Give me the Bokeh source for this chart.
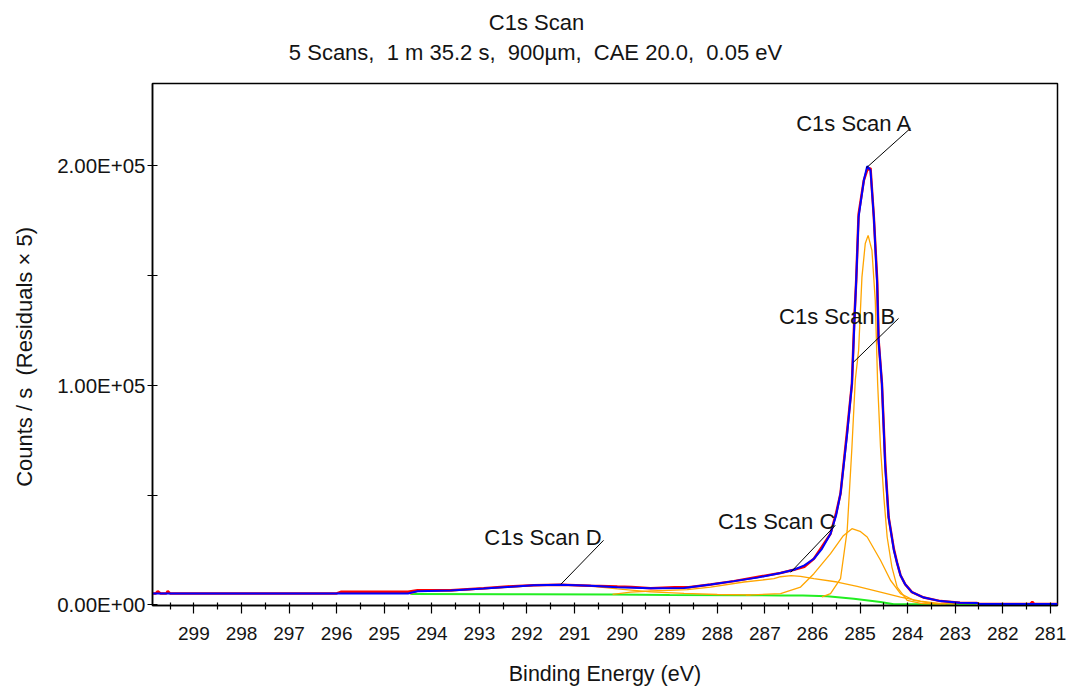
import math
from bokeh.plotting import figure
from bokeh.layouts import column, row
from bokeh.models import Range1d, FixedTicker, ColumnDataSource
from bokeh.core.properties import value
from bokeh.embed import file_html
from bokeh.resources import INLINE

# ---------------- data (binding energy in eV, counts / s) ----------------
title_text = "C1s Scan"
subtitle_text = "5 Scans,\u00a0 1 m 35.2 s,\u00a0 900\u00b5m,\u00a0 CAE 20.0,\u00a0 0.05 eV"
x_label_text = "Binding Energy (eV)"
y_label_text = "Counts / s \u00a0(Residuals \u00d7 5)"

# fitted envelope (blue)
env_be = [299.87, 294.50, 294.30, 293.60, 292.91, 292.41, 291.86, 291.29, 290.66, 290.10,
          289.40, 288.70, 288.14, 287.65, 287.16, 286.67, 286.39, 286.17, 285.97, 285.80,
          285.62, 285.50, 285.41, 285.27, 285.17, 285.12, 285.08, 285.03, 284.92, 284.85,
          284.78, 284.71, 284.64, 284.61, 284.54, 284.47, 284.40, 284.29, 284.22, 284.15,
          284.05, 283.91, 283.66, 283.31, 282.90, 282.54, 282.50, 280.85]
env_cps = [5200, 5200, 6200, 6500, 7400, 8100, 8900, 9200, 8700, 8000,
           7600, 7700, 9300, 10800, 12400, 14500, 16000, 18000, 21000, 25500,
           32400, 41000, 50700, 78000, 100800, 128000, 148000, 176700, 193400, 199800,
           198000, 176700, 146300, 120500, 100800, 62800, 40000, 25000, 19000, 13500,
           9300, 5800, 3300, 1700, 1000, 800, 400, 400]

# measured data (red)
raw_be = [299.87, 299.80, 299.76, 299.70, 299.58, 299.55, 299.50, 296.00, 295.90, 294.50,
          294.30, 293.60, 292.91, 292.41, 291.86, 291.29, 290.66, 290.10, 289.80, 289.40,
          288.90, 288.60, 288.14, 287.65, 287.16, 286.67, 286.39, 286.17, 285.97, 285.80,
          285.62, 285.50, 285.41, 285.27, 285.17, 285.12, 285.08, 285.03, 284.92, 284.85,
          284.78, 284.71, 284.64, 284.61, 284.54, 284.47, 284.40, 284.29, 284.22, 284.15,
          284.05, 283.91, 283.66, 283.31, 282.90, 282.54, 282.50, 281.42, 281.38, 281.34,
          280.85]
raw_cps = [5200, 5200, 6200, 5200, 5200, 6200, 5200, 5200, 6000, 6000,
           6600, 6700, 7600, 8400, 8900, 9200, 8700, 8300, 8100, 7600,
           8000, 8000, 9300, 10800, 12700, 14500, 16000, 17300, 21000, 26500,
           32400, 42000, 50700, 79500, 100800, 130000, 148000, 178000, 193400, 198000,
           199000, 176700, 148000, 120500, 100800, 64500, 40000, 25500, 19000, 13500,
           9300, 5800, 3300, 1700, 1000, 800, 400, 400, 1300, 400,
           400]

# fit components (orange)
a_be = [285.80, 285.62, 285.41, 285.27, 285.17, 285.10, 285.03, 284.96, 284.89, 284.83,
        284.75, 284.68, 284.63, 284.57, 284.50, 284.43, 284.33, 284.22, 284.01, 283.70, 283.30]
a_cps = [3600, 5100, 11900, 33900, 71900, 102300, 116000, 149300, 164600, 168300,
         161500, 138700, 100800, 71900, 49100, 30900, 17200, 8100, 2050, 600, 300]

b_be = [287.40, 286.67, 286.25, 285.97, 285.62, 285.35, 285.17, 285.00, 284.85, 284.57,
        284.36, 284.15, 283.87, 283.52, 283.20]
b_cps = [4400, 5100, 8100, 14200, 23300, 31500, 34700, 33500, 30900, 20300,
         11200, 5100, 2050, 820, 350]

c_be = [290.20, 289.82, 289.40, 288.63, 288.14, 287.44, 286.81, 286.67, 286.45, 286.25,
        285.97, 285.48, 285.06, 284.57, 284.15, 283.73, 283.30, 283.00]
c_cps = [4800, 5800, 6300, 6900, 8100, 10400, 11900, 12800, 13300, 13000,
         11900, 10400, 8400, 5800, 3550, 1730, 600, 350]

d_be = [294.45, 294.30, 293.60, 292.91, 292.41, 291.86, 291.29, 290.66, 290.10, 289.40,
        288.70, 288.00, 287.30]
d_cps = [4900, 6100, 6400, 7300, 8000, 8800, 9100, 8500, 7300, 5900,
         5200, 4700, 4500]

# background (green)
bg_be = [294.45, 292.00, 290.20, 289.00, 287.50, 286.67, 286.20, 285.69, 285.13, 284.57,
         284.29, 282.55]
bg_cps = [4900, 4800, 4700, 4500, 4400, 4300, 4200, 3900, 2800, 1300,
          300, 300]

# peak labels
label_names = ["C1s Scan A", "C1s Scan B", "C1s Scan C", "C1s Scan D"]
label_peak_be = [284.87, 285.14, 286.46, 291.29]
label_peak_cps = [199000, 110500, 14800, 9300]
label_end_be = [283.94, 284.19, 285.52, 290.39]
label_end_cps = [217100, 130500, 36200, 29400]
label_text_be = [283.90, 284.26, 285.52, 290.43]
label_text_cps = [219400, 131400, 38000, 30750]

# axis ticks
x_ticks = list(range(281, 300))
x_minor = [t + 0.5 for t in range(281, 300)]
y_ticks = [0, 100000, 200000]
y_minor = [50000, 150000]
y_tick_labels = ["0.00E+00", "1.00E+05", "2.00E+05"]

# ---------------- layout sizes ----------------
FONT = "Liberation Sans"
TXT = "#141414"
TOP_H = 80
LEFT_W = 48
MAIN_W = 1068 - LEFT_W
MAIN_H = 689 - TOP_H


def strip(width, height):
    f = figure(width=width, height=height, output_backend="svg", toolbar_location=None,
               x_range=Range1d(0, width), y_range=Range1d(0, height), min_border=0,
               background_fill_color="white", border_fill_color="white")
    f.axis.visible = False
    f.grid.visible = False
    f.outline_line_color = None
    return f


# title strip (top)
top = strip(1068, TOP_H)
top.text(x=[536, 535], y=[TOP_H - 22, TOP_H - 52], text=[title_text, subtitle_text],
         text_align="center", text_baseline="middle", text_font=value(FONT),
         text_font_size="22px", text_color=TXT)

# y-label strip (left)
left = strip(LEFT_W, MAIN_H)
left.text(x=[24], y=[290], text=[y_label_text], angle=math.pi / 2,
          text_align="center", text_baseline="middle", text_font=value(FONT),
          text_font_size="22px", text_color=TXT)

# main chart
fig = figure(width=MAIN_W, height=MAIN_H, output_backend="svg", toolbar_location=None,
             x_range=Range1d(299.87, 280.85), y_range=Range1d(-300, 237500),
             min_border_left=152 - LEFT_W, min_border_right=11, min_border_top=83 - TOP_H,
             min_border_bottom=84, background_fill_color="white",
             border_fill_color="white")
fig.grid.visible = False
fig.outline_line_color = "black"
fig.outline_line_width = 1.5
fig.outline_line_alpha = 1.0

fig.line(bg_be, bg_cps, line_color="#22ee22", line_width=2)
for xs, ys in [(a_be, a_cps), (b_be, b_cps), (c_be, c_cps), (d_be, d_cps)]:
    fig.line(xs, ys, line_color="#ffa500", line_width=1.3)
fig.line(raw_be, raw_cps, line_color="#ff0000", line_width=2.5)
fig.line(env_be, env_cps, line_color="#0000ff", line_width=2)

fig.segment(x0=label_peak_be, y0=label_peak_cps, x1=label_end_be, y1=label_end_cps,
            line_color="black", line_width=1)
lsrc = ColumnDataSource(dict(x=label_text_be, y=label_text_cps, t=label_names))
fig.text(x="x", y="y", text="t", source=lsrc, text_align="right", text_baseline="middle",
         text_font=value(FONT), text_font_size="22px", text_color=TXT)

xa = fig.xaxis[0]
xa.ticker = FixedTicker(ticks=x_ticks, minor_ticks=x_minor)
xa.major_tick_in = 3
xa.major_tick_out = 8
xa.minor_tick_in = 3
xa.minor_tick_out = 4
xa.major_label_text_font = FONT
xa.major_label_text_font_size = "19px"
xa.major_label_text_color = TXT
xa.major_label_standoff = 13
xa.axis_label = x_label_text
xa.axis_label_text_font = FONT
xa.axis_label_text_font_size = "21.5px"
xa.axis_label_text_font_style = "normal"
xa.axis_label_text_color = TXT
xa.axis_label_standoff = 19

ya = fig.yaxis[0]
ya.ticker = FixedTicker(ticks=y_ticks, minor_ticks=y_minor)
ya.major_label_overrides = {t: s for t, s in zip(y_ticks, y_tick_labels)}
ya.major_tick_in = 5
ya.major_tick_out = 5
ya.minor_tick_in = 5
ya.minor_tick_out = 5
ya.major_label_text_font = FONT
ya.major_label_text_font_size = "20.5px"
ya.major_label_text_color = TXT
ya.major_label_standoff = 2

for ax in (xa, ya):
    ax.axis_line_color = "black"
    ax.axis_line_width = 1.5
    ax.major_tick_line_color = "black"
    ax.minor_tick_line_color = "black"
    ax.major_tick_line_width = 1.2
    ax.minor_tick_line_width = 1.2

p = column(top, row(left, fig))

open("out.html", "w").write(file_html(p, INLINE))
